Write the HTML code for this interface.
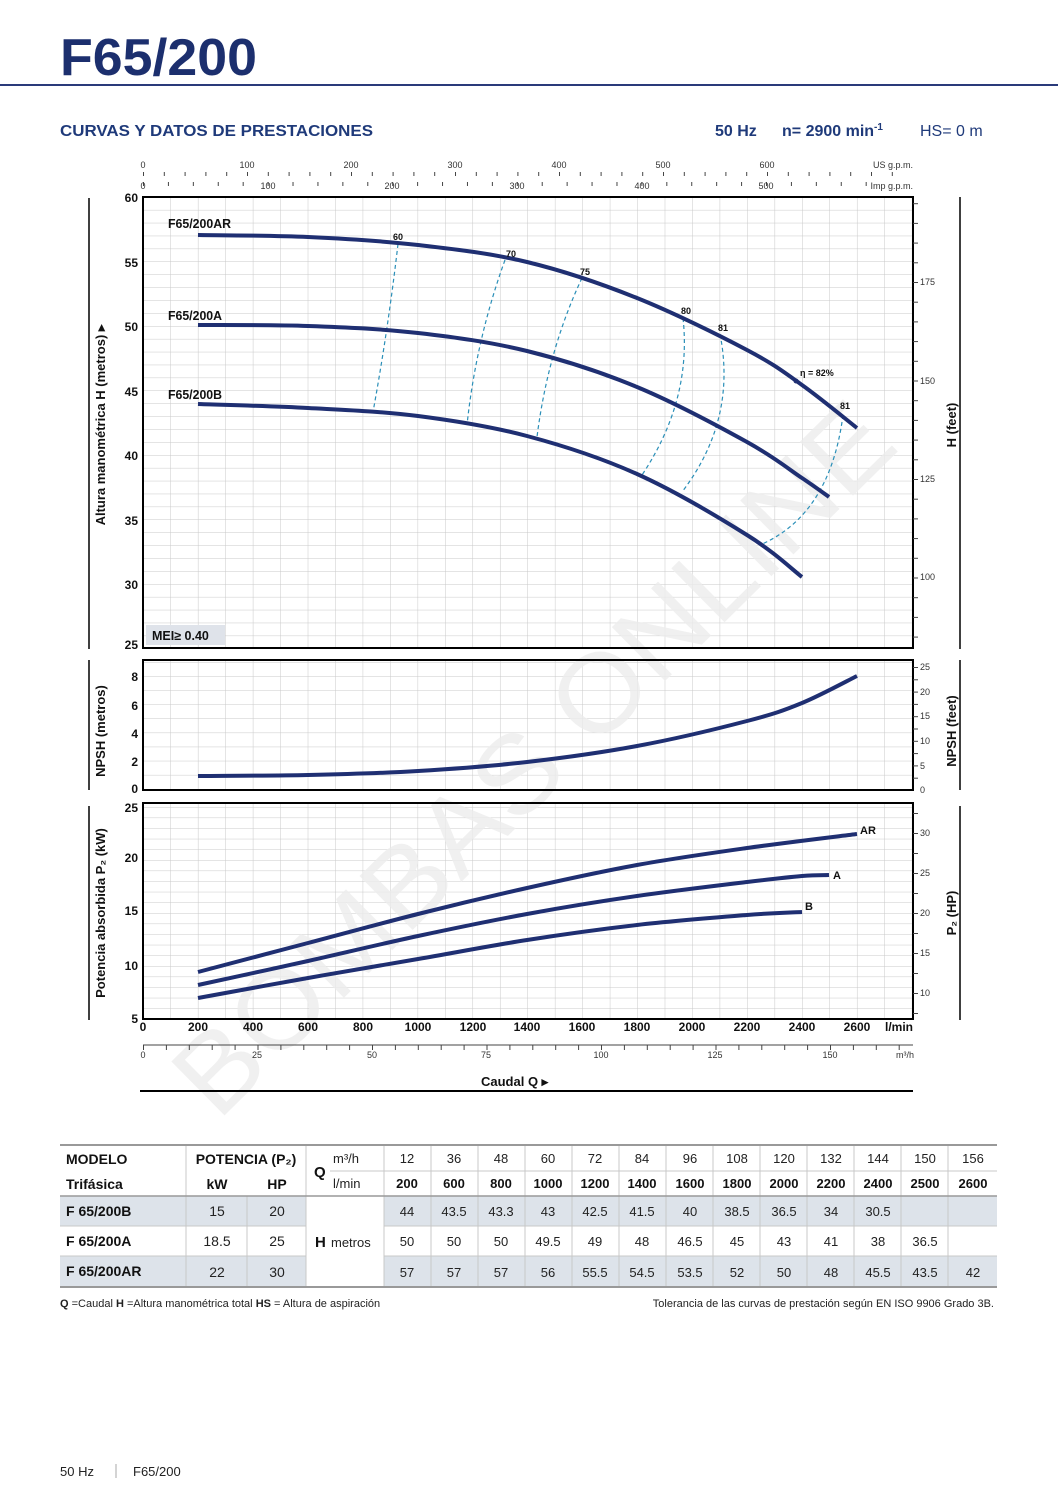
<!DOCTYPE html>
<html><head><meta charset="utf-8"><style>
html,body{margin:0;padding:0;background:#fff}
svg{display:block}
text{font-family:"Liberation Sans",sans-serif}
</style></head><body>
<svg width="1058" height="1497" viewBox="0 0 1058 1497" xmlns="http://www.w3.org/2000/svg">
<defs>
<pattern id="gH" x="143" y="197" width="27.46" height="12.9" patternUnits="userSpaceOnUse"><path d="M0,0V12.9M0,0H27.46" stroke="#c9c9c9" stroke-width="1" fill="none"/></pattern>
<pattern id="gN" x="143" y="789" width="27.46" height="14.1" patternUnits="userSpaceOnUse"><path d="M0,0V14.1M0,0H27.46" stroke="#c9c9c9" stroke-width="1" fill="none"/></pattern>
<pattern id="gP" x="143" y="1019" width="27.46" height="10.6" patternUnits="userSpaceOnUse"><path d="M0,0V10.6M0,0H27.46" stroke="#c9c9c9" stroke-width="1" fill="none"/></pattern>
<pattern id="tUS" x="143" y="0" width="20.8" height="1497" patternUnits="userSpaceOnUse"><path d="M0.5,0V1497" stroke="#444" stroke-width="1"/></pattern>
<pattern id="tIM" x="143" y="0" width="24.92" height="1497" patternUnits="userSpaceOnUse"><path d="M0.5,0V1497" stroke="#444" stroke-width="1"/></pattern>
<pattern id="tM3" x="143" y="0" width="22.9" height="1497" patternUnits="userSpaceOnUse"><path d="M0.5,0V1497" stroke="#444" stroke-width="1"/></pattern>
<pattern id="tFT" x="0" y="282" width="1058" height="19.7" patternUnits="userSpaceOnUse"><path d="M0,0.5H1058" stroke="#444" stroke-width="1"/></pattern>
<pattern id="tNF" x="0" y="667" width="1058" height="12.3" patternUnits="userSpaceOnUse"><path d="M0,0.5H1058" stroke="#444" stroke-width="1"/></pattern>
<pattern id="tHP" x="0" y="833" width="1058" height="20" patternUnits="userSpaceOnUse"><path d="M0,0.5H1058" stroke="#444" stroke-width="1"/></pattern>
</defs>

<!-- Header -->
<text x="60" y="75" font-size="52" font-weight="bold" fill="#1c2f6e" textLength="197" lengthAdjust="spacingAndGlyphs">F65/200</text>
<rect x="0" y="84" width="1058" height="2" fill="#2a3a7a"/>
<text x="60" y="136" font-size="16" font-weight="bold" fill="#1f3a7a" textLength="313" lengthAdjust="spacingAndGlyphs">CURVAS Y DATOS DE PRESTACIONES</text>
<text x="715" y="136" font-size="16" font-weight="bold" fill="#1f3a7a">50 Hz</text>
<text x="782" y="136" font-size="16" font-weight="bold" fill="#1f3a7a">n= 2900 min<tspan font-size="10" dy="-6">-1</tspan></text>
<text x="920" y="136" font-size="16" fill="#1f3a7a">HS= 0 m</text>

<!-- top axes -->
<g font-size="9" fill="#333">
<rect x="143" y="172" width="750" height="4" fill="url(#tUS)"/>
<rect x="143" y="182" width="730" height="4" fill="url(#tIM)"/>
<text x="143" y="168" text-anchor="middle">0</text><text x="247" y="168" text-anchor="middle">100</text><text x="351" y="168" text-anchor="middle">200</text><text x="455" y="168" text-anchor="middle">300</text><text x="559" y="168" text-anchor="middle">400</text><text x="663" y="168" text-anchor="middle">500</text><text x="767" y="168" text-anchor="middle">600</text>
<text x="913" y="168" text-anchor="end">US g.p.m.</text>
<text x="143" y="189" text-anchor="middle">0</text><text x="268" y="189" text-anchor="middle">100</text><text x="392" y="189" text-anchor="middle">200</text><text x="517" y="189" text-anchor="middle">300</text><text x="642" y="189" text-anchor="middle">400</text><text x="766" y="189" text-anchor="middle">500</text>
<text x="913" y="189" text-anchor="end">Imp g.p.m.</text>
</g>

<!-- panels grid -->
<rect x="143" y="197" width="770" height="451" fill="url(#gH)"/>
<rect x="143" y="660" width="770" height="130" fill="url(#gN)"/>
<rect x="143" y="803" width="770" height="216" fill="url(#gP)"/>

<!-- Watermark -->
<g transform="translate(535,760) rotate(-44.6)">
<text x="0" y="35" font-size="110" font-family="Liberation Serif,serif" fill="#ececec" fill-opacity="0.8" text-anchor="middle" textLength="960" lengthAdjust="spacingAndGlyphs">BOMBAS ONLINE</text>
</g>

<g fill="none" stroke="#000" stroke-width="2">
<rect x="143" y="197" width="770" height="451"/>
<rect x="143" y="660" width="770" height="130"/>
<rect x="143" y="803" width="770" height="216"/>
</g>

<!-- left/right axis bars -->
<g stroke="#000" stroke-width="1.5">
<line x1="89" y1="198" x2="89" y2="649"/><line x1="89" y1="660" x2="89" y2="790"/><line x1="89" y1="806" x2="89" y2="1020"/>
<line x1="960" y1="197" x2="960" y2="649"/><line x1="960" y1="660" x2="960" y2="790"/><line x1="960" y1="806" x2="960" y2="1020"/>
</g>

<!-- left tick labels -->
<g font-size="12" font-weight="bold" fill="#111" text-anchor="end">
<text x="138" y="202">60</text><text x="138" y="267">55</text><text x="138" y="331">50</text><text x="138" y="396">45</text><text x="138" y="460">40</text><text x="138" y="525">35</text><text x="138" y="589">30</text><text x="138" y="649">25</text>
<text x="138" y="681">8</text><text x="138" y="710">6</text><text x="138" y="738">4</text><text x="138" y="766">2</text><text x="138" y="793">0</text>
<text x="138" y="812">25</text><text x="138" y="862">20</text><text x="138" y="915">15</text><text x="138" y="970">10</text><text x="138" y="1023">5</text>
</g>

<!-- right ticks and labels -->
<rect x="913" y="200" width="5" height="448" fill="url(#tFT)"/>
<rect x="913" y="662" width="5" height="128" fill="url(#tNF)"/>
<rect x="913" y="813" width="5" height="205" fill="url(#tHP)"/>
<g font-size="9" fill="#333">
<text x="920" y="285">175</text><text x="920" y="384">150</text><text x="920" y="482">125</text><text x="920" y="580">100</text>
<text x="920" y="670">25</text><text x="920" y="695">20</text><text x="920" y="719">15</text><text x="920" y="744">10</text><text x="920" y="769">5</text><text x="920" y="793">0</text>
<text x="920" y="836">30</text><text x="920" y="876">25</text><text x="920" y="916">20</text><text x="920" y="956">15</text><text x="920" y="996">10</text>
</g>

<!-- axis titles -->
<g font-size="13" font-weight="bold" fill="#111" text-anchor="middle">
<text transform="translate(105,425) rotate(-90)">Altura manométrica H (metros)  ▸</text>
<text transform="translate(105,731) rotate(-90)">NPSH (metros)</text>
<text transform="translate(105,913) rotate(-90)">Potencia absorbida P₂ (kW)</text>
<text transform="translate(956,425) rotate(-90)">H (feet)</text>
<text transform="translate(956,731) rotate(-90)">NPSH (feet)</text>
<text transform="translate(956,913) rotate(-90)">P₂ (HP)</text>
</g>

<!-- efficiency dashed -->
<g fill="none" stroke="#2a8fb8" stroke-width="1.2" stroke-dasharray="4 3">
<path d="M398,244 Q388,330 373,412"/>
<path d="M505,260 Q476,340 467,425"/>
<path d="M582,278 Q548,350 537,437"/>
<path d="M683,318 Q692,400 642,475"/>
<path d="M720,334 Q737,420 682,492"/>
<path d="M843,415 Q830,515 760,545"/>
</g>

<!-- H curves -->
<g fill="none" stroke="#1f2f72" stroke-width="4" stroke-linejoin="round">
<path class="sm" data-p="198,235 308,237 418,245 527,262 637,298 747,350 802,385 857,428"/>
<path class="sm" data-p="198,325 308,326 418,333 527,351 637,387 747,442 802,478 829,497"/>
<path class="sm" data-p="198,404 308,408 418,416 527,436 637,474 747,535 802,577"/>
</g>
<circle cx="796" cy="381" r="2.5" fill="#1f2f72"/>
<g font-size="9" font-weight="bold" fill="#111">
<text x="393" y="240">60</text><text x="506" y="257">70</text><text x="580" y="275">75</text><text x="681" y="314">80</text><text x="718" y="331">81</text><text x="800" y="376">η = 82%</text><text x="840" y="409">81</text>
</g>
<g font-size="13" font-weight="bold" fill="#111">
<text x="168" y="228" textLength="63" lengthAdjust="spacingAndGlyphs">F65/200AR</text><text x="168" y="320" textLength="54" lengthAdjust="spacingAndGlyphs">F65/200A</text><text x="168" y="399" textLength="54" lengthAdjust="spacingAndGlyphs">F65/200B</text>
</g>
<rect x="146" y="625" width="79" height="20" fill="#dfe3ea"/>
<text x="152" y="640" font-size="12.5" font-weight="bold" fill="#111">MEI≥ 0.40</text>

<!-- NPSH curve -->
<path class="sm" fill="none" stroke="#1f2f72" stroke-width="4" data-p="198,776 308,775 418,771 527,762 637,746 747,721 802,703 857,676"/>

<!-- Power curves -->
<g fill="none" stroke="#1f2f72" stroke-width="4" stroke-linejoin="round">
<path class="sm" data-p="198,972 308,943 418,914 527,888 637,865 747,848 857,834"/>
<path class="sm" data-p="198,985 308,961 418,936 527,914 637,896 747,882 802,876 829,875"/>
<path class="sm" data-p="198,998 308,978 418,959 527,940 637,925 747,915 802,912"/>
</g>
<g font-size="11" font-weight="bold" fill="#111">
<text x="860" y="834">AR</text><text x="833" y="879">A</text><text x="805" y="910">B</text>
</g>

<!-- l/min labels -->
<g font-size="12" font-weight="bold" fill="#111" text-anchor="middle">
<text x="143" y="1031">0</text><text x="198" y="1031">200</text><text x="253" y="1031">400</text><text x="308" y="1031">600</text><text x="363" y="1031">800</text><text x="418" y="1031">1000</text><text x="473" y="1031">1200</text><text x="527" y="1031">1400</text><text x="582" y="1031">1600</text><text x="637" y="1031">1800</text><text x="692" y="1031">2000</text><text x="747" y="1031">2200</text><text x="802" y="1031">2400</text><text x="857" y="1031">2600</text><text x="899" y="1031">l/min</text>
</g>

<!-- m3/h axis -->
<line x1="143" y1="1045" x2="913" y2="1045" stroke="#444" stroke-width="1"/>
<rect x="143" y="1045" width="770" height="5" fill="url(#tM3)"/>
<g font-size="9" fill="#333" text-anchor="middle">
<text x="143" y="1058">0</text><text x="257" y="1058">25</text><text x="372" y="1058">50</text><text x="486" y="1058">75</text><text x="601" y="1058">100</text><text x="715" y="1058">125</text><text x="830" y="1058">150</text><text x="905" y="1058">m³/h</text>
</g>
<text x="481" y="1086" font-size="13" font-weight="bold" fill="#111">Caudal Q  ▸</text>
<line x1="140" y1="1091" x2="913" y2="1091" stroke="#000" stroke-width="2"/>

<!-- Table -->
<g>
<rect x="60" y="1196" width="246" height="30" fill="#dde3ea"/>
<rect x="384" y="1196" width="613" height="30" fill="#dde3ea"/>
<rect x="60" y="1256" width="246" height="30" fill="#dde3ea"/>
<rect x="384" y="1256" width="613" height="30" fill="#dde3ea"/>
<g stroke="#c8c8c8" stroke-width="1">
<line x1="330" y1="1171" x2="997" y2="1171"/>
<line x1="60" y1="1226" x2="306" y2="1226"/><line x1="384" y1="1226" x2="997" y2="1226"/>
<line x1="60" y1="1256" x2="306" y2="1256"/><line x1="384" y1="1256" x2="997" y2="1256"/>
<line x1="186" y1="1146" x2="186" y2="1286"/><line x1="306" y1="1146" x2="306" y2="1286"/>
<line x1="247" y1="1196" x2="247" y2="1286"/>
<line x1="384" y1="1146" x2="384" y2="1286"/><line x1="431" y1="1146" x2="431" y2="1286"/><line x1="478" y1="1146" x2="478" y2="1286"/><line x1="525" y1="1146" x2="525" y2="1286"/><line x1="572" y1="1146" x2="572" y2="1286"/><line x1="619" y1="1146" x2="619" y2="1286"/><line x1="666" y1="1146" x2="666" y2="1286"/><line x1="713" y1="1146" x2="713" y2="1286"/><line x1="760" y1="1146" x2="760" y2="1286"/><line x1="807" y1="1146" x2="807" y2="1286"/><line x1="854" y1="1146" x2="854" y2="1286"/><line x1="901" y1="1146" x2="901" y2="1286"/><line x1="948" y1="1146" x2="948" y2="1286"/>
</g>
<line x1="60" y1="1145" x2="997" y2="1145" stroke="#999" stroke-width="2"/>
<line x1="60" y1="1196" x2="997" y2="1196" stroke="#999" stroke-width="1.5"/>
<line x1="60" y1="1287" x2="997" y2="1287" stroke="#999" stroke-width="2"/>

<g font-size="14" font-weight="bold" fill="#111">
<text x="66" y="1164">MODELO</text><text x="66" y="1189">Trifásica</text>
<text x="246" y="1164" text-anchor="middle">POTENCIA (P₂)</text>
<text x="217" y="1189" text-anchor="middle">kW</text><text x="277" y="1189" text-anchor="middle">HP</text>
<text x="314" y="1177" font-size="15">Q</text>
<text x="66" y="1216">F 65/200B</text><text x="66" y="1246">F 65/200A</text><text x="66" y="1276">F 65/200AR</text>
<text x="315" y="1247" font-size="15">H</text>
</g>
<g font-size="13" fill="#222">
<text x="333" y="1163">m³/h</text><text x="333" y="1188">l/min</text>
<text x="331" y="1247">metros</text>
</g>
<g font-size="13" fill="#222" text-anchor="middle">
<text x="407" y="1163">12</text><text x="454" y="1163">36</text><text x="501" y="1163">48</text><text x="548" y="1163">60</text><text x="595" y="1163">72</text><text x="642" y="1163">84</text><text x="690" y="1163">96</text><text x="737" y="1163">108</text><text x="784" y="1163">120</text><text x="831" y="1163">132</text><text x="878" y="1163">144</text><text x="925" y="1163">150</text><text x="973" y="1163">156</text>
</g>
<g font-size="13" font-weight="bold" fill="#111" text-anchor="middle">
<text x="407" y="1188">200</text><text x="454" y="1188">600</text><text x="501" y="1188">800</text><text x="548" y="1188">1000</text><text x="595" y="1188">1200</text><text x="642" y="1188">1400</text><text x="690" y="1188">1600</text><text x="737" y="1188">1800</text><text x="784" y="1188">2000</text><text x="831" y="1188">2200</text><text x="878" y="1188">2400</text><text x="925" y="1188">2500</text><text x="973" y="1188">2600</text>
</g>
<g font-size="14" fill="#222" text-anchor="middle">
<text x="217" y="1216">15</text><text x="277" y="1216">20</text>
<text x="217" y="1246">18.5</text><text x="277" y="1246">25</text>
<text x="217" y="1277">22</text><text x="277" y="1277">30</text>
</g>
<g font-size="13" fill="#222" text-anchor="middle">
<text x="407" y="1216">44</text><text x="454" y="1216">43.5</text><text x="501" y="1216">43.3</text><text x="548" y="1216">43</text><text x="595" y="1216">42.5</text><text x="642" y="1216">41.5</text><text x="690" y="1216">40</text><text x="737" y="1216">38.5</text><text x="784" y="1216">36.5</text><text x="831" y="1216">34</text><text x="878" y="1216">30.5</text>
<text x="407" y="1246">50</text><text x="454" y="1246">50</text><text x="501" y="1246">50</text><text x="548" y="1246">49.5</text><text x="595" y="1246">49</text><text x="642" y="1246">48</text><text x="690" y="1246">46.5</text><text x="737" y="1246">45</text><text x="784" y="1246">43</text><text x="831" y="1246">41</text><text x="878" y="1246">38</text><text x="925" y="1246">36.5</text>
<text x="407" y="1277">57</text><text x="454" y="1277">57</text><text x="501" y="1277">57</text><text x="548" y="1277">56</text><text x="595" y="1277">55.5</text><text x="642" y="1277">54.5</text><text x="690" y="1277">53.5</text><text x="737" y="1277">52</text><text x="784" y="1277">50</text><text x="831" y="1277">48</text><text x="878" y="1277">45.5</text><text x="925" y="1277">43.5</text><text x="973" y="1277">42</text>
</g>
</g>
<text x="60" y="1307" font-size="11" fill="#222"><tspan font-weight="bold">Q</tspan> =Caudal  <tspan font-weight="bold">H</tspan> =Altura manométrica total  <tspan font-weight="bold">HS</tspan> = Altura de aspiración</text>
<text x="994" y="1307" font-size="11" fill="#222" text-anchor="end">Tolerancia de las curvas de prestación según EN ISO 9906 Grado 3B.</text>

<!-- footer -->
<text x="60" y="1476" font-size="13" fill="#222">50 Hz</text>
<line x1="116" y1="1464" x2="116" y2="1478" stroke="#aaa" stroke-width="1"/>
<text x="133" y="1476" font-size="13" fill="#222">F65/200</text>
</svg>
<script>
document.querySelectorAll('path.sm').forEach(function(el){
  var p=el.getAttribute('data-p').trim().split(/\s+/).map(function(s){return s.split(',').map(Number);});
  var d='M'+p[0][0]+','+p[0][1];
  for(var i=0;i<p.length-1;i++){
    var p0=p[i-1]||p[i],p1=p[i],p2=p[i+1],p3=p[i+2]||p2;
    var c1x=p1[0]+(p2[0]-p0[0])/6,c1y=p1[1]+(p2[1]-p0[1])/6;
    var c2x=p2[0]-(p3[0]-p1[0])/6,c2y=p2[1]-(p3[1]-p1[1])/6;
    d+=' C'+c1x.toFixed(1)+','+c1y.toFixed(1)+' '+c2x.toFixed(1)+','+c2y.toFixed(1)+' '+p2[0]+','+p2[1];
  }
  el.setAttribute('d',d);
});
</script>
</body></html>
